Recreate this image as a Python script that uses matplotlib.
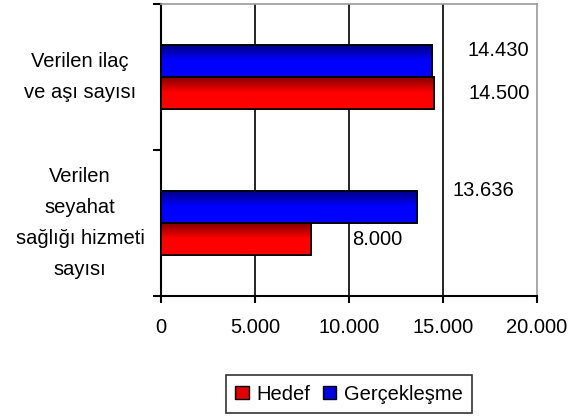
import numpy as np
import matplotlib
matplotlib.use("Agg")
import matplotlib.pyplot as plt
from matplotlib.colors import LinearSegmentedColormap
from matplotlib.patches import Patch

plt.rcParams["font.family"] = ["Liberation Sans", "DejaVu Sans"]

categories = ["Verilen seyahat sağlığı hizmeti sayısı", "Verilen ilaç ve aşı sayısı"]
cat_lines = ["Verilen\nseyahat\nsağlığı hizmeti\nsayısı", "Verilen ilaç\nve aşı sayısı"]
hedef = [8000, 14500]
gerceklesme = [13636, 14430]
hedef_labels = ["8.000", "14.500"]
gerceklesme_labels = ["13.636", "14.430"]
xticks = [0, 5000, 10000, 15000, 20000]
xtick_labels = ["0", "5.000", "10.000", "15.000", "20.000"]

fs = 14.5
fig = plt.figure(figsize=(5.82, 4.18), dpi=100)
ax = fig.add_axes([161 / 582, 1 - 296 / 418, 376 / 582, 292 / 418])

y = np.arange(len(categories))
h = 0.22
red_cmap = LinearSegmentedColormap.from_list("r", [(0, "#7a0000"), (0.5, "#ff0000"), (1, "#ff0000")])
blue_cmap = LinearSegmentedColormap.from_list("b", [(0, "#00007a"), (0.5, "#0000ff"), (1, "#0000ff")])

bars_g = ax.barh(y + h / 2, gerceklesme, height=h, color="#0000ff", edgecolor="black", linewidth=1.2, zorder=3)
bars_h = ax.barh(y - h / 2, hedef, height=h, color="#ff0000", edgecolor="black", linewidth=1.2, zorder=3)

# vertical gradient inside each bar
grad = np.linspace(0, 1, 64).reshape(-1, 1)
for bars, cmap in [(bars_g, blue_cmap), (bars_h, red_cmap)]:
    for b in bars:
        x0, y0, w, hh = b.get_x(), b.get_y(), b.get_width(), b.get_height()
        im = ax.imshow(grad, cmap=cmap, aspect="auto", origin="upper",
                       extent=[x0, x0 + w, y0, y0 + hh], zorder=3.5)
        im.set_clip_path(b)
        ax.add_patch(plt.Rectangle((x0, y0), w, hh, fill=False, edgecolor="black", linewidth=1.2, zorder=4))

# data labels (offset like the original)
off = 3500
for i in range(len(categories)):
    ax.text(gerceklesme[i] + off, y[i] + h / 2 + 0.07 + 0.04 * (1 - i), gerceklesme_labels[i],
            ha="center", va="center", fontsize=fs, zorder=5)
    ax.text(hedef[i] + off, y[i] - h / 2, hedef_labels[i],
            ha="center", va="center", fontsize=fs, zorder=5)

ax.set_xlim(0, 20000)
ax.set_ylim(-0.5, len(categories) - 0.5)
ax.set_xticks(xticks)
ax.set_xticklabels(xtick_labels, fontsize=fs)
ax.set_yticks([-0.5, 0.5, 1.5])
ax.set_yticklabels([])
ax.tick_params(axis="x", direction="out", length=5, width=1.5, pad=11)
ax.tick_params(axis="y", direction="out", length=6, width=1.5)

for xv in xticks[1:-1]:
    ax.axvline(xv, color="black", linewidth=1.2, zorder=1)

ax.spines["left"].set_linewidth(1.5)
ax.spines["bottom"].set_linewidth(1.5)
ax.spines["top"].set_color("#999999")
ax.spines["right"].set_color("#999999")
ax.spines["top"].set_linewidth(1.2)
ax.spines["right"].set_linewidth(1.2)

for i, lab in enumerate(cat_lines):
    ax.text(-0.215, y[i], lab, transform=ax.get_yaxis_transform(),
            ha="center", va="center", fontsize=fs, linespacing=1.8)

handles = [Patch(facecolor="#e00000", edgecolor="black", label="Hedef"),
           Patch(facecolor="#0000e0", edgecolor="black", label="Gerçekleşme")]
leg = fig.legend(handles=handles, loc="center", bbox_to_anchor=(349 / 582, 1 - 394 / 418),
                 ncol=2, fontsize=fs, frameon=True, fancybox=False, handlelength=0.65,
                 handleheight=0.65, handletextpad=0.4, columnspacing=0.6, borderpad=0.45)
leg.get_frame().set_edgecolor("black")
leg.get_frame().set_linewidth(1.2)

fig.savefig("out.png", dpi=100)
